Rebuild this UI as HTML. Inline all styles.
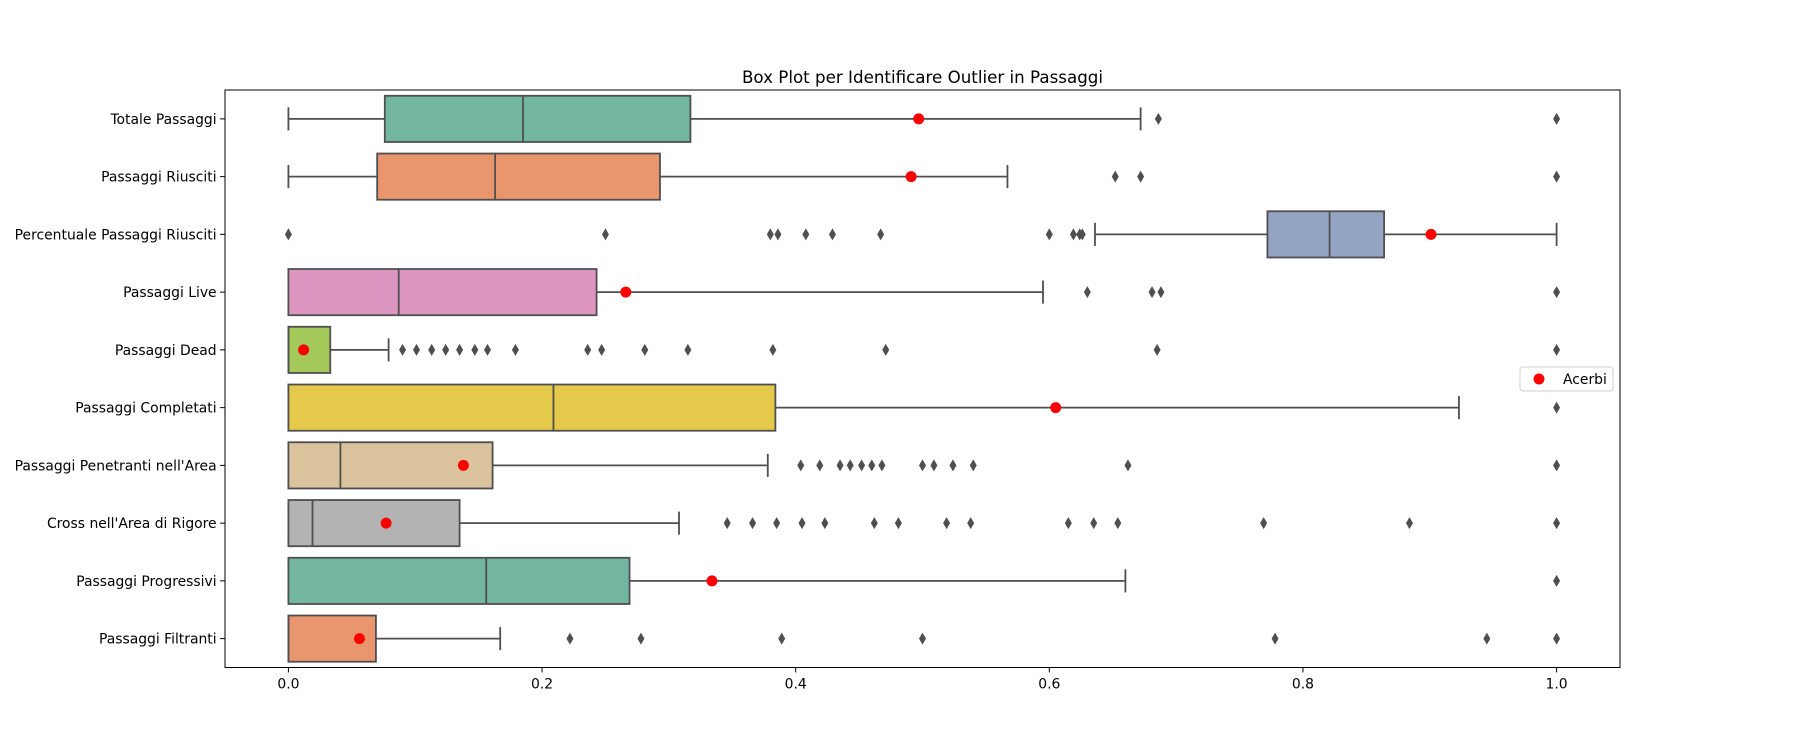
<!DOCTYPE html>
<html><head><meta charset="utf-8"><style>
html,body{margin:0;padding:0;background:#fff;}
svg{display:block;font-family:"DejaVu Sans","Liberation Sans",sans-serif;}
</style></head><body>
<svg id="chart" width="1800" height="750" xmlns="http://www.w3.org/2000/svg"></svg>
<script>
const categories=["Totale Passaggi","Passaggi Riusciti","Percentuale Passaggi Riusciti","Passaggi Live","Passaggi Dead","Passaggi Completati","Passaggi Penetranti nell'Area","Cross nell'Area di Rigore","Passaggi Progressivi","Passaggi Filtranti"];
const whiskerLow=[0,0,0.636,0,0,0,0,0,0,0];
const q1=[0.076,0.070,0.772,0,0,0,0,0,0,0];
const medians=[0.185,0.163,0.821,0.087,0,0.209,0.041,0.019,0.156,0];
const q3=[0.317,0.293,0.864,0.243,0.033,0.384,0.161,0.135,0.269,0.069];
const whiskerHigh=[0.672,0.567,1.0,0.595,0.079,0.923,0.378,0.308,0.66,0.167];
const outliers=[
[0.686,1],
[0.652,0.672,1],
[0,0.25,0.38,0.386,0.408,0.429,0.467,0.6,0.619,0.624,0.626],
[0.63,0.681,0.688,1],
[0.09,0.101,0.113,0.124,0.135,0.147,0.157,0.179,0.236,0.247,0.281,0.315,0.382,0.471,0.685,1],
[1],
[0.404,0.419,0.435,0.443,0.452,0.46,0.468,0.5,0.509,0.524,0.54,0.662,1],
[0.346,0.366,0.385,0.405,0.423,0.462,0.481,0.519,0.538,0.615,0.635,0.654,0.769,0.884,1],
[1],
[0.222,0.278,0.389,0.5,0.778,0.945,1]];
const acerbi=[0.497,0.491,0.901,0.266,0.012,0.605,0.138,0.077,0.334,0.056];
const xTicks=[0,0.2,0.4,0.6,0.8,1.0];
const xTickLabels=["0.0","0.2","0.4","0.6","0.8","1.0"];

const colors=["#72b6a1","#e9966f","#94a5c4","#dc94c1","#a3c95b","#e4c94b","#dbc39d","#b3b3b3","#72b6a1","#e9966f"];
const L=225,R=1620,T=90,B=667.5,xmin=-0.05,xmax=1.05;
const X=v=>L+(v-xmin)/(xmax-xmin)*(R-L);
const rowH=(B-T)/categories.length;
const Y=i=>T+(i+0.5)*rowH;
const svg=document.getElementById('chart');
const NS="http://www.w3.org/2000/svg";
function mk(tag,attrs,parent){const e=document.createElementNS(NS,tag);for(const k in attrs)e.setAttribute(k,attrs[k]);(parent||svg).appendChild(e);return e;}
const LC="#4f4f4f";
categories.forEach((c,i)=>{
  const g=mk('g',{});
  
  
  const y=Y(i),h=rowH*0.8;
  const w1=mk('line',{x1:X(whiskerLow[i]),x2:X(q1[i]),y1:y,y2:y,stroke:LC,'stroke-width':1.8},g);
  
  const w2=mk('line',{x1:X(q3[i]),x2:X(whiskerHigh[i]),y1:y,y2:y,stroke:LC,'stroke-width':1.8},g);
  
  [whiskerLow[i],whiskerHigh[i]].forEach(v=>{const cp=mk('line',{x1:X(v),x2:X(v),y1:y-h/4,y2:y+h/4,stroke:LC,'stroke-width':1.8},g);
    });
  const r=mk('rect',{x:X(q1[i]),y:y-h/2,width:X(q3[i])-X(q1[i]),height:h,fill:colors[i],stroke:LC,'stroke-width':1.8},g);
  
  const m=mk('line',{x1:X(medians[i]),x2:X(medians[i]),y1:y-h/2,y2:y+h/2,stroke:LC,'stroke-width':1.8},g);
  
  outliers[i].forEach(v=>{const d=mk('path',{d:`M${X(v)},${y-6} L${X(v)+3.5},${y} L${X(v)},${y+6} L${X(v)-3.5},${y} Z`,fill:LC},g);
    });
  const p=mk('circle',{cx:X(acerbi[i]),cy:y,r:5.5,fill:'#ff0000'},g);
  
  const tk=mk('line',{x1:L-4.9,x2:L,y1:y,y2:y,stroke:'#000','stroke-width':1});
  
  const t=mk('text',{x:L-8.4,y:y+5,'text-anchor':'end','font-size':13.9,fill:'#000'});
  t.textContent=c;
  
});
xTicks.forEach((v,k)=>{
  const tk=mk('line',{x1:X(v),x2:X(v),y1:B,y2:B+4.9,stroke:'#000','stroke-width':1});
  
  const t=mk('text',{x:X(v),y:B+21,'text-anchor':'middle','font-size':13.9,fill:'#000'});
  t.textContent=xTickLabels[k];
  
});
const fr=mk('rect',{x:L,y:T,width:R-L,height:B-T,fill:'none',stroke:'#000','stroke-width':1});

const ti=mk('text',{x:(L+R)/2,y:T-7,'text-anchor':'middle','font-size':16.7,fill:'#000'});
ti.textContent="Box Plot per Identificare Outlier in Passaggi";

const lg=mk('g',{});

const lb=mk('rect',{x:1520,y:367,width:93,height:24,rx:3,fill:'#fff',stroke:'#d0d0d0','stroke-width':1},lg);

const lm=mk('circle',{cx:1539,cy:379,r:5.5,fill:'#ff0000'},lg);

const lt=mk('text',{x:1563,y:384,'font-size':13.9,fill:'#000'},lg);
lt.textContent="Acerbi";

</script>
</body></html>
